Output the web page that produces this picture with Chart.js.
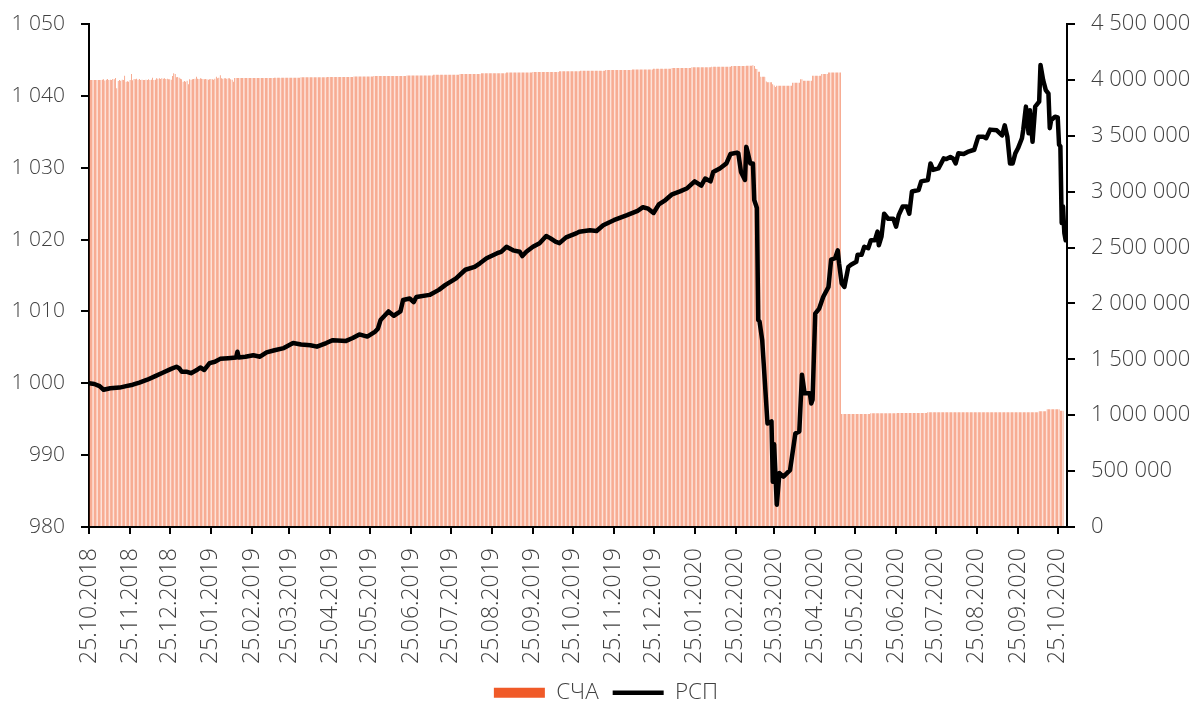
<!DOCTYPE html>
<html>
<head>
<meta charset="utf-8">
<script src="https://cdn.jsdelivr.net/npm/chart.js@4.4.1/dist/chart.umd.min.js"></script>
<style>
  html, body { margin: 0; padding: 0; background: #fff; }
</style>
</head>
<body>
<canvas id="chart" width="1194" height="704"></canvas>
<script>
// x = days since 25.10.2018
const tickLabels = [
  '25.10.2018', '25.11.2018', '25.12.2018', '25.01.2019', '25.02.2019', '25.03.2019',
  '25.04.2019', '25.05.2019', '25.06.2019', '25.07.2019', '25.08.2019', '25.09.2019',
  '25.10.2019', '25.11.2019', '25.12.2019', '25.01.2020', '25.02.2020', '25.03.2020',
  '25.04.2020', '25.05.2020', '25.06.2020', '25.07.2020', '25.08.2020', '25.09.2020',
  '25.10.2020'
]

// СЧА, thousands, one value per calendar day starting 25.10.2018
const schaValues = [
  3999,3999,3999,3999,3999,3999,3999,3999,3999,3999, 4002,4005,3995,4002,4008,3999,4002,3999,4008,4005,
  4017,3925,3990,3999,3993,4002,3999,4038,3984,3987, 3984,3999,4053,3996,4008,4005,4011,4002,4008,3999,
  4002,3999,3999,4002,3999,4005,3999,4002,4020,3999, 4002,4014,4011,4014,4008,4014,4011,4014,4008,4011,
  4005,4005,4002,4035,4059,4053,4023,4026,4020,4011, 4005,3984,3990,3984,3993,3960,4005,4002,4005,4008,
  4011,4029,4011,4008,4014,4011,4008,4005,4008,4005, 4002,4005,4008,4005,4002,4011,4029,4014,4020,4041,
  4014,4011,4014,4014,4011,4014,4014,4005,4002,3984, 4017,4017,4017,4017,4017,4017,4017,4017,4017,4017,
  4017,4017,4017,4017,4017,4017,4017,4017,4017,4017, 4017,4017,4017,4017,4017,4017,4017,4017,4017,4017,
  4020,4020,4020,4020,4020,4020,4020,4020,4020,4020, 4020,4020,4020,4020,4020,4020,4020,4020,4020,4020,
  4023,4023,4023,4023,4023,4023,4023,4023,4023,4023, 4023,4023,4023,4023,4023,4023,4023,4023,4023,4023,
  4026,4026,4026,4026,4026,4026,4026,4026,4026,4026, 4026,4026,4026,4026,4026,4026,4026,4026,4026,4026,
  4030,4030,4030,4030,4030,4030,4030,4030,4030,4030, 4030,4030,4030,4030,4030,4035,4035,4035,4035,4035,
  4035,4035,4035,4035,4035,4035,4035,4035,4035,4035, 4035,4035,4035,4035,4035,4035,4035,4035,4035,4035,
  4040,4040,4040,4040,4040,4040,4040,4040,4040,4040, 4040,4040,4040,4040,4040,4040,4040,4040,4040,4040,
  4047,4047,4047,4047,4047,4047,4047,4047,4047,4047, 4047,4047,4047,4047,4047,4047,4047,4047,4047,4047,
  4053,4053,4053,4053,4053,4053,4053,4053,4053,4053, 4053,4053,4053,4053,4053,4053,4059,4059,4059,4059,
  4059,4059,4059,4059,4059,4059,4059,4059,4059,4059, 4059,4059,4059,4059,4059,4065,4065,4065,4065,4065,
  4065,4065,4065,4065,4065,4065,4065,4065,4065,4065, 4065,4065,4065,4065,4065,4071,4071,4071,4071,4071,
  4071,4071,4071,4071,4071,4071,4071,4071,4071,4071, 4071,4071,4071,4071,4071,4077,4077,4077,4077,4077,
  4077,4077,4077,4077,4077,4077,4077,4077,4077,4077, 4077,4082,4082,4082,4082,4082,4082,4082,4082,4082,
  4082,4082,4082,4082,4082,4082,4082,4082,4082,4082, 4088,4088,4088,4088,4088,4088,4088,4088,4088,4088,
  4088,4088,4088,4088,4088,4088,4088,4088,4088,4088, 4094,4094,4094,4094,4094,4094,4094,4094,4094,4094,
  4094,4094,4094,4094,4094,4094,4100,4100,4100,4100, 4100,4100,4100,4100,4100,4100,4100,4100,4100,4100,
  4106,4106,4106,4106,4106,4106,4106,4106,4106,4106, 4106,4106,4106,4106,4106,4112,4112,4112,4112,4112,
  4112,4112,4112,4112,4112,4112,4112,4112,4112,4112, 4118,4118,4118,4118,4118,4118,4118,4118,4118,4118,
  4118,4118,4118,4118,4118,4124,4124,4124,4124,4124, 4124,4124,4124,4124,4124,4124,4127,4127,4127,4127,
  4127,4130,4124,4100,4097,4073,4073,4029,4029,4029, 4029,3985,3978,3978,3978,3978,3960,3950,3936,3948,
  3948,3948,3948,3948,3948,3948,3948,3948,3948,3948, 3948,3975,3975,3975,3975,3975,3975,4005,4005,3993,
  3993,3993,3993,3993,3993,3993,4038,4038,4038,4038, 4038,4038,4038,4053,4053,4053,4053,4053,4065,4065,
  4065,4065,4065,4065,4065,4065,4065,4065,1011,1011, 1011,1011,1011,1011,1011,1011,1011,1011,1011,1011,
  1011,1011,1011,1011,1011,1011,1011,1011,1011,1011, 1017,1017,1017,1017,1017,1017,1017,1017,1017,1017,
  1017,1017,1017,1017,1017,1017,1017,1017,1017,1017, 1020,1020,1020,1020,1020,1020,1020,1020,1020,1020,
  1020,1020,1020,1020,1020,1020,1020,1020,1020,1020, 1020,1020,1020,1026,1026,1026,1026,1026,1026,1026,
  1026,1026,1026,1026,1026,1026,1026,1026,1026,1026, 1026,1026,1026,1026,1026,1026,1026,1026,1026,1026,
  1026,1026,1026,1026,1026,1026,1026,1026,1026,1026, 1026,1026,1026,1026,1026,1026,1026,1026,1026,1026,
  1026,1026,1026,1026,1026,1026,1026,1026,1026,1026, 1026,1026,1026,1026,1026,1026,1026,1026,1026,1026,
  1026,1026,1026,1026,1026,1026,1026,1026,1026,1026, 1026,1026,1026,1026,1026,1026,1026,1035,1035,1035,
  1035,1035,1035,1053,1053,1053,1053,1053,1053,1053, 1053,1053,1053,1040,1040,1040
]

// РСП
const rspDays = [
  0, 4, 8, 11, 16, 23, 28, 33, 38, 44, 50, 56, 62, 66, 68, 70, 74, 77, 81, 84,
  87, 91, 95, 99, 105, 111, 112, 113, 118, 124, 129, 134, 140, 147, 154, 160, 167, 172, 179, 184,
  194, 199, 204, 210, 216, 218, 220, 226, 230, 235, 237, 242, 245, 247, 257, 264, 269, 277, 284, 291,
  295, 300, 308, 311, 315, 320, 325, 327, 330, 335, 340, 345, 348, 352, 355, 360, 368, 370, 378, 383,
  388, 396, 406, 414, 418, 422, 426, 430, 435, 440, 446, 451, 457, 462, 465, 469, 471, 476, 481, 484,
  489, 490, 492, 495, 496, 497, 499, 501, 502, 504, 505, 506, 508, 512, 515, 516, 517, 519, 521, 524,
  529, 533, 536, 538, 540, 544, 545, 546, 548, 551, 554, 558, 560, 563, 565, 566, 568, 570, 573, 575,
  579, 580, 583, 585, 588, 590, 593, 595, 596, 598, 600, 603, 607, 609, 611, 614, 617, 619, 621, 626,
  628, 633, 635, 637, 641, 645, 647, 650, 652, 654, 656, 660, 663, 668, 671, 675, 677, 680, 685, 689,
  691, 693, 695, 697, 699, 701, 704, 705, 707, 709, 710, 712, 714, 717, 718, 720, 722, 724, 725, 726,
  729, 731, 732, 733, 734, 735, 736, 737
]
const rspValues = [
  1000.0, 999.9, 999.6, 999.1, 999.3, 999.4, 999.6, 999.8, 1000.1, 1000.5, 1001.0, 1001.5, 1002.0, 1002.3, 1002.1, 1001.6, 1001.6, 1001.4, 1001.8, 1002.2,
  1001.85, 1002.8, 1003.0, 1003.4, 1003.5, 1003.6, 1004.4, 1003.6, 1003.7, 1003.9, 1003.7, 1004.3, 1004.6, 1004.9, 1005.6, 1005.4, 1005.3, 1005.1, 1005.6, 1006.0,
  1005.9, 1006.3, 1006.8, 1006.5, 1007.2, 1007.6, 1008.8, 1010.0, 1009.4, 1010.0, 1011.6, 1011.8, 1011.3, 1012.0, 1012.3, 1013.0, 1013.7, 1014.6, 1015.8, 1016.2,
  1016.7, 1017.4, 1018.1, 1018.3, 1019.0, 1018.5, 1018.3, 1017.7, 1018.3, 1019.0, 1019.5, 1020.5, 1020.2, 1019.7, 1019.5, 1020.3, 1020.9, 1021.1, 1021.3, 1021.2,
  1022.0, 1022.7, 1023.4, 1024.0, 1024.5, 1024.3, 1023.7, 1024.9, 1025.5, 1026.3, 1026.7, 1027.1, 1028.1, 1027.5, 1028.5, 1028.1, 1029.4, 1029.9, 1030.6, 1031.9,
  1032.1, 1032.0, 1029.4, 1028.3, 1032.9, 1032.2, 1030.6, 1030.6, 1025.5, 1024.4, 1008.8, 1008.6, 1006.0, 994.4, 994.7, 986.3, 991.5, 983.1, 987.5, 987.0,
  987.9, 993.0, 993.3, 1001.2, 998.6, 998.6, 997.2, 997.7, 1009.7, 1010.4, 1012.0, 1013.4, 1017.2, 1017.4, 1018.5, 1016.7, 1013.9, 1013.4, 1016.2, 1016.5,
  1016.9, 1017.9, 1017.9, 1019.0, 1018.8, 1019.9, 1019.9, 1021.1, 1019.2, 1020.4, 1023.6, 1022.9, 1022.9, 1021.8, 1023.4, 1024.6, 1024.6, 1023.6, 1026.7, 1026.9,
  1028.1, 1028.3, 1030.6, 1029.7, 1029.9, 1031.3, 1031.2, 1031.5, 1031.3, 1030.6, 1032.0, 1031.9, 1032.2, 1032.5, 1034.3, 1034.3, 1034.1, 1035.3, 1035.2, 1034.5,
  1035.9, 1034.3, 1030.6, 1030.6, 1032.0, 1032.7, 1034.1, 1035.3, 1038.5, 1034.8, 1038.0, 1033.6, 1038.5, 1039.2, 1044.3, 1042.2, 1040.8, 1040.3, 1035.5, 1036.6,
  1037.1, 1037.0, 1033.2, 1033.0, 1022.3, 1024.6, 1020.9, 1019.9
]

const startDay = Date.UTC(2018, 9, 25)
const dayOf = (label) => {
  let [d, m, y] = label.split('.').map(Number)
  return Math.round((Date.UTC(y, m - 1, d) - startDay) / 86400000)
}
const tickDays = tickLabels.map(dayOf)

const spaced = (v) => String(v).replace(/\B(?=(\d{3})+(?!\d))/g, ' ')

const textColor = '#404040'
Chart.defaults.font.family = "'Open Sans', 'Noto Sans', sans-serif"
Chart.defaults.font.size = 21
Chart.defaults.font.weight = '300'
Chart.defaults.color = textColor

const axisGrid = {drawOnChartArea: false, drawTicks: true, tickLength: 8, color: '#000', lineWidth: 2}
const axisBorder = {display: true, color: '#000', width: 2}

// fixed axis widths, and no extra top/bottom padding from tick labels
const fixWidth = (w) => (s) => {
  s.width = w
  s.paddingTop = 0
  s.paddingBottom = 0
}

new Chart(document.getElementById('chart'), {
  type: 'bar',
  data: {
    datasets: [
      {
        type: 'bar',
        label: 'СЧА',
        data: schaValues.map((v, d) => ({x: d, y: v * 1000})),
        yAxisID: 'y1',
        backgroundColor: '#F05A28',
        borderWidth: 0,
        categoryPercentage: 1,
        barPercentage: 0.38,
        inflateAmount: 0,
        pointStyle: 'rect',
        order: 1
      },
      {
        type: 'line',
        label: 'РСП',
        data: rspDays.map((d, i) => ({x: d, y: rspValues[i]})),
        yAxisID: 'y',
        borderColor: '#000',
        backgroundColor: '#000',
        borderWidth: 4.5,
        borderJoinStyle: 'round',
        borderCapStyle: 'round',
        pointRadius: 0,
        tension: 0,
        pointStyle: 'line',
        order: 0
      }
    ]
  },
  options: {
    responsive: false,
    animation: false,
    layout: {padding: {top: 24, bottom: -10, left: 0, right: -18}},
    scales: {
      x: {
        type: 'linear',
        min: 0,
        max: 738,
        offset: false,
        grid: {...axisGrid, offset: false, tickLength: 7},
        border: axisBorder,
        afterBuildTicks: (s) => { s.ticks = tickDays.map(v => ({value: v})) },
        afterFit: (s) => { s.height = 140.5 },
        ticks: {
          autoSkip: false,
          maxRotation: 90,
          minRotation: 90,
          padding: 14,
          font: {size: 23},
          callback: (v, i) => tickLabels[i]
        }
      },
      y: {
        position: 'left',
        min: 980,
        max: 1050,
        grid: axisGrid,
        border: axisBorder,
        afterFit: fixWidth(89),
        ticks: {stepSize: 10, padding: 16, callback: (v) => spaced(v)}
      },
      y1: {
        position: 'right',
        min: 0,
        max: 4500000,
        grid: axisGrid,
        border: axisBorder,
        afterFit: fixWidth(145),
        ticks: {stepSize: 500000, padding: 16, font: {size: 22}, callback: (v) => spaced(v)}
      }
    },
    plugins: {
      tooltip: {enabled: false},
      legend: {
        position: 'bottom',
        labels: {
          usePointStyle: true,
          pointStyleWidth: 51,
          boxHeight: 10,
          padding: 14,
          color: textColor,
          font: {size: 22.5},
          sort: (a, b) => a.datasetIndex - b.datasetIndex
        }
      }
    }
  }
})
</script>
</body>
</html>
